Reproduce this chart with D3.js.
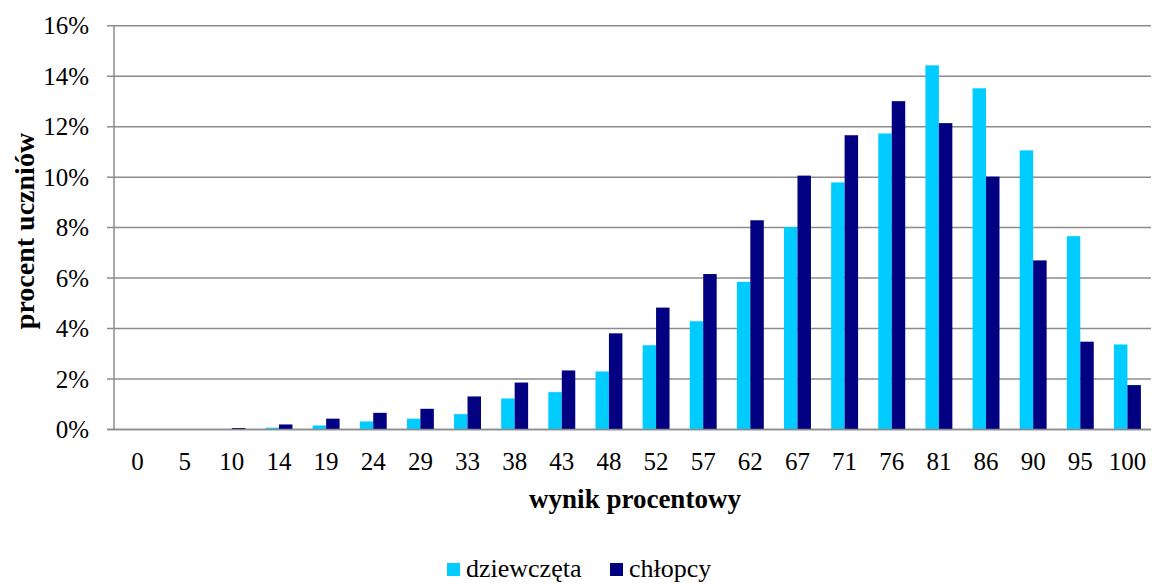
<!DOCTYPE html>
<html><head><meta charset="utf-8">
<script src="https://cdn.jsdelivr.net/npm/d3@7"></script>
<style>body{margin:0;background:#fff}svg{display:block}svg text{font-family:"Liberation Serif","Times New Roman",serif !important;fill:#000}</style>
</head><body>
<svg id="c" width="1152" height="584"></svg>
<script>
const categories = ["0","5","10","14","19","24","29","33","38","43","48","52","57","62","67","71","76","81","86","90","95","100"];
const dziewczeta = [0,0.01,0.02,0.07,0.16,0.32,0.43,0.61,1.23,1.48,2.30,3.34,4.29,5.85,8.02,9.79,11.73,14.43,13.52,11.06,7.66,3.37];
const chlopcy    = [0,0.02,0.06,0.20,0.43,0.66,0.82,1.31,1.86,2.34,3.81,4.83,6.16,8.29,10.06,11.66,13.01,12.14,10.02,6.70,3.48,1.76];
const seriesNames = ["dziewczęta","chłopcy"];
const colors = ["#00CCFF","#000080"];
const yTicks = [0,2,4,6,8,10,12,14,16];

const svg = d3.select("#c");
const L = 114, R = 1151, T = 25.7, B = 429.5;
const x = d3.scaleBand().domain(categories).range([L, R]).paddingInner(0).paddingOuter(0);
const y = d3.scaleLinear().domain([0,16]).range([B, T]);
const bw = x.bandwidth()/3.5;

svg.append("g").selectAll("line").data(yTicks).join("line")
  .attr("x1", L-7).attr("x2", R).attr("y1", d=>y(d)).attr("y2", d=>y(d))
  .attr("stroke", "#8c8c8c").attr("stroke-width", 1.5);
svg.append("line").attr("x1", L).attr("x2", L).attr("y1", T).attr("y2", B)
  .attr("stroke", "#8c8c8c").attr("stroke-width", 1.5);

const yAxis = d3.axisLeft(y).tickValues(yTicks).tickFormat(d=>d+"%").tickSize(0).tickPadding(0);
const ya = svg.append("g").attr("transform", `translate(${L-25},0)`).call(yAxis);
ya.select(".domain").remove();
ya.selectAll("text").attr("font-size", 25).attr("dy", "0.33em");

const data = [dziewczeta, chlopcy];
data.forEach((vals, si) => {
  svg.append("g").selectAll("rect").data(vals).join("rect")
    .attr("x", (d,i)=> x(categories[i]) + bw*0.75 + si*bw)
    .attr("width", bw)
    .attr("y", d=>y(d))
    .attr("height", d=>B - y(d))
    .attr("fill", colors[si]);
});
svg.append("line").attr("x1", L-7).attr("x2", R).attr("y1", y(0)).attr("y2", y(0))
  .attr("stroke", "#8c8c8c").attr("stroke-width", 1.5);

const xAxis = d3.axisBottom(x).tickSize(0).tickPadding(0);
const xa = svg.append("g").attr("transform", `translate(0,470)`).call(xAxis);
xa.select(".domain").remove();
xa.selectAll("text").attr("font-size", 25).attr("dy", 0);

svg.append("text").attr("x", 635).attr("y", 508).attr("text-anchor","middle")
  .attr("font-size", 27).attr("font-weight","bold").text("wynik procentowy");
svg.append("text").attr("transform", "translate(34,231) rotate(-90)").attr("text-anchor","middle")
  .attr("font-size", 28).attr("font-weight","bold").text("procent uczniów");

const leg = [{x:447, tx:466},{x:610, tx:629}];
seriesNames.forEach((n,i)=>{
  svg.append("rect").attr("x", leg[i].x).attr("y", 563).attr("width", 13).attr("height", 13).attr("fill", colors[i]);
  svg.append("text").attr("x", leg[i].tx).attr("y", 577).attr("font-size", 26).text(n);
});
</script>
</body></html>
